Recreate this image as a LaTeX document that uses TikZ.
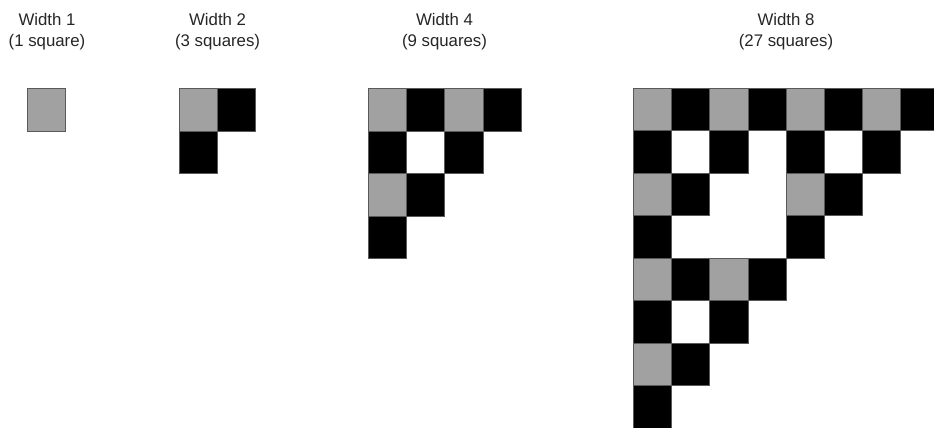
\documentclass[tikz,border=0pt]{standalone}
\usepackage{fontspec}
\setmainfont{Liberation Sans}
\begin{document}
\begin{tikzpicture}[x=1pt,y=-1pt,
  cell/.style={draw=black!65, line width=0.6pt, minimum width=38.2pt, minimum height=42.5pt, inner sep=0pt, outer sep=0pt, anchor=north west},
  graycell/.style={cell, fill=black!37},
  blackcell/.style={cell, fill=black},
  lbl/.style={font=\fontsize{16.8}{21}\selectfont, align=center, inner sep=0pt, anchor=north, text=black!85}]
\useasboundingbox (0,0) rectangle (934,428);
\clip (0,0) rectangle (934,428);
\foreach \n/\ox/\oy in {1/27.5/88.3, 2/179.3/88.3, 4/368.3/88.3, 8/633.3/88}{
  \pgfmathtruncatemacro{\m}{\n-1}
  \foreach \r in {0,...,\m}{
    \foreach \c in {0,...,\m}{
      \pgfmathtruncatemacro{\p}{mod(\r,2)*mod(\c,2)+mod(floor(\r/2),2)*mod(floor(\c/2),2)+mod(floor(\r/4),2)*mod(floor(\c/4),2)+(\r+\c>\m)}
      \pgfmathtruncatemacro{\g}{(mod(\r,2)==0)&&(mod(\c,2)==0)}
      \ifnum\p=0
        \ifnum\g=1
          \node[graycell] (w\n-\r-\c) at (\ox+\c*38.2, \oy+\r*42.5) {};
        \else
          \node[blackcell] (w\n-\r-\c) at (\ox+\c*38.2, \oy+\r*42.5) {};
        \fi
      \fi
    }
  }
}
\node[lbl] (t1) at (47,12.8) {Width 1\\(1 square)};
\node[lbl] (t2) at (217.6,12.8) {Width 2\\(3 squares)};
\node[lbl] (t4) at (444.5,12.8) {Width 4\\(9 squares)};
\node[lbl] (t8) at (786,12.8) {Width 8\\(27 squares)};
\end{tikzpicture}
\end{document}
